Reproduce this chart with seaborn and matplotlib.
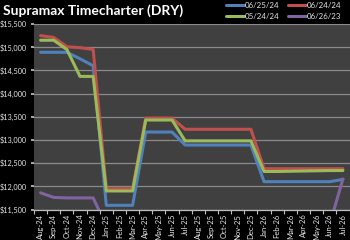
import matplotlib
matplotlib.use("Agg")
import matplotlib.pyplot as plt
import matplotlib.ticker as mticker
import seaborn as sns
import pandas as pd

months = ["Aug-24", "Sep-24", "Oct-24", "Nov-24", "Dec-24", "Jan-25", "Feb-25", "Mar-25",
          "Apr-25", "May-25", "Jun-25", "Jul-25", "Aug-25", "Sep-25", "Oct-25", "Nov-25",
          "Dec-25", "Jan-26", "Feb-26", "Mar-26", "Apr-26", "May-26", "Jun-26", "Jul-26"]

s_062524 = [14890, 14890, 14890, 14750, 14600, 11590, 11590, 11590,
            13170, 13170, 13170, 12890, 12890, 12890, 12890, 12890,
            12890, 12100, 12100, 12100, 12100, 12100, 12100, 12150]
s_062424 = [15250, 15210, 15010, 14990, 14950, 11950, 11950, 11950,
            13470, 13470, 13470, 13230, 13230, 13230, 13230, 13230,
            13230, 12380, 12380, 12380, 12380, 12380, 12380, 12380]
s_052424 = [15150, 15150, 14950, 14370, 14370, 11900, 11900, 11900,
            13430, 13430, 13430, 12980, 12980, 12980, 12980, 12980,
            12980, 12320, 12320, 12325, 12330, 12335, 12340, 12340]
s_062623 = [11860, 11760, 11750, 11750, 11750, 11150, 11150, 11150,
            11200, 11200, 11200, 11200, 11200, 11200, 11200, 11200,
            11200, 11150, 11150, 11150, 11150, 11150, 11180, 12160]

series_names = ["06/25/24", "06/24/24", "05/24/24", "06/26/23"]
series_values = [s_062524, s_062424, s_052424, s_062623]
colors = ["#4F81BD", "#C0504D", "#9BBB59", "#8064A2"]

rows = []
for name, vals in zip(series_names, series_values):
    for m, v in zip(months, vals):
        rows.append({"month": m, "value": v, "series": name})
df = pd.DataFrame(rows)

sns.set_theme(style="dark")
plt.rcParams["font.family"] = ["Lato", "DejaVu Sans"]

fig = plt.figure(figsize=(3.5, 2.4), dpi=100, facecolor="black")
ax = fig.add_axes([34 / 350, 1 - 209.5 / 240, (349.5 - 34) / 350, (209.5 - 24) / 240])
ax.set_facecolor("#404040")

sns.lineplot(data=df, x="month", y="value", hue="series", hue_order=series_names,
             palette=colors, sort=False, linewidth=2.2, ax=ax, legend=True)

ax.set_ylim(11500, 15500)
ax.set_xlim(-0.5, len(months) - 0.5)
ax.yaxis.set_major_locator(mticker.MultipleLocator(500))
ax.yaxis.set_major_formatter(mticker.FuncFormatter(lambda v, p: f"${v:,.0f}"))
ax.grid(axis="y", color="#8a8a8a", linewidth=0.9)
ax.grid(axis="x", visible=False)
ax.set_axisbelow(True)

ax.set_xticks(range(len(months)))
ax.set_xticklabels(months, rotation=90, fontsize=5.5, color="#e6e6e6")
ax.xaxis.set_minor_locator(mticker.FixedLocator([i - 0.5 for i in range(len(months) + 1)]))
ax.tick_params(axis="x", which="major", length=0, pad=3)
ax.tick_params(axis="x", which="minor", length=3, color="#bfbfbf", width=0.8, bottom=True)
ax.tick_params(axis="y", which="major", length=2.5, color="#bfbfbf", labelsize=5.3,
               labelcolor="#e6e6e6", pad=2.5, left=True)

for sp in ["top", "right", "left"]:
    ax.spines[sp].set_visible(False)
ax.spines["bottom"].set_visible(True)
ax.spines["bottom"].set_color("#bfbfbf")
ax.spines["bottom"].set_linewidth(0.9)

ax.set_xlabel("")
ax.set_ylabel("")

fig.text(3 / 350, 1 - 15 / 240, "Supramax Timecharter (DRY)", color="white",
         fontsize=10, fontweight="bold", ha="left", va="baseline")

handles, labels = ax.get_legend_handles_labels()
hmap = dict(zip(labels, handles))
order = ["06/25/24", "05/24/24", "06/24/24", "06/26/23"]
leg = ax.legend([hmap[k] for k in order], order, ncol=2, loc="upper right",
                bbox_to_anchor=(343 / 350, 1 - 0.5 / 240),
                bbox_transform=fig.transFigure, frameon=False, fontsize=5.7,
                labelcolor="#e6e6e6", handlelength=2.3, handletextpad=0.1,
                columnspacing=1.0, labelspacing=0.45, borderaxespad=0.0, borderpad=0.2)

fig.savefig("out.png", dpi=100, facecolor="black")
